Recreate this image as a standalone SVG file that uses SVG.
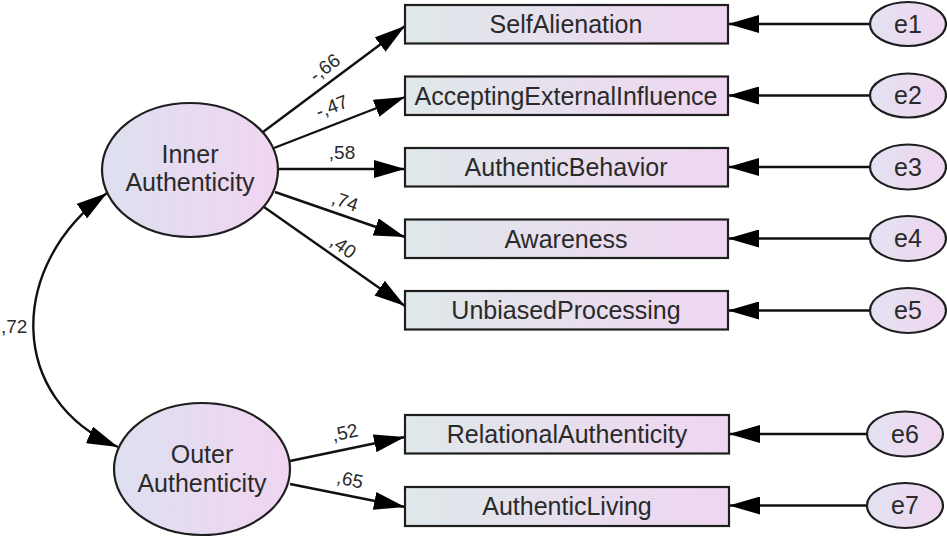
<svg xmlns="http://www.w3.org/2000/svg" width="947" height="538" viewBox="0 0 947 538">
<style>
.bg{fill:#ffffff}
.obs{stroke:#1e1e1e;stroke-width:2.2;fill:url(#gRect)}
.lat{stroke:#1e1e1e;stroke-width:2.2;fill:url(#gEll)}
.err{stroke:#1e1e1e;stroke-width:2.2;fill:url(#gErr)}
.nt{font-family:"Liberation Sans",Arial,sans-serif;font-size:25px;fill:#2a2a2a;text-anchor:middle}
.lb{font-family:"Liberation Sans",Arial,sans-serif;font-size:19px;fill:#2a2a2a;text-anchor:middle}
.cn{stroke:#111;stroke-width:2.4;fill:none;marker-end:url(#ah)}
</style>
<defs>
<linearGradient id="gRect" x1="0" y1="0" x2="1" y2="0">
<stop offset="0" stop-color="#dfe8ea"/>
<stop offset="1" stop-color="#efd6f1"/>
</linearGradient>
<linearGradient id="gEll" x1="0" y1="0" x2="1" y2="0">
<stop offset="0" stop-color="#dde0f0"/>
<stop offset="1" stop-color="#f1d5f1"/>
</linearGradient>
<linearGradient id="gErr" x1="0" y1="0" x2="1" y2="0">
<stop offset="0" stop-color="#e2e2f2"/>
<stop offset="1" stop-color="#f0d6f0"/>
</linearGradient>
<marker id="ah" markerUnits="userSpaceOnUse" markerWidth="32" markerHeight="18" refX="31" refY="9" orient="auto-start-reverse" viewBox="0 0 32 18">
<path d="M0,0 L31,9 L0,18 Z" fill="#000"/>
</marker>
</defs>
<rect class="bg" x="0" y="0" width="947" height="538"/>

<g id="connectors">
<line class="cn" x1="263" y1="132" x2="405" y2="26"/>
<line class="cn" x1="274" y1="148" x2="405" y2="97"/>
<line class="cn" x1="278" y1="169" x2="405" y2="169"/>
<line class="cn" x1="275" y1="192" x2="405" y2="237"/>
<line class="cn" x1="264" y1="207" x2="405" y2="306"/>
<line class="cn" x1="290" y1="461" x2="405" y2="437"/>
<line class="cn" x1="290" y1="484" x2="405" y2="507"/>
<line class="cn" x1="870" y1="24" x2="728" y2="24"/>
<line class="cn" x1="870" y1="95.5" x2="728" y2="95.5"/>
<line class="cn" x1="870" y1="167" x2="728" y2="167"/>
<line class="cn" x1="870" y1="238.5" x2="728" y2="238.5"/>
<line class="cn" x1="870" y1="310.5" x2="728" y2="310.5"/>
<line class="cn" x1="867" y1="434" x2="729" y2="434"/>
<line class="cn" x1="867" y1="505.5" x2="729" y2="505.5"/>
<path class="cn" style="marker-start:url(#ah)" d="M107,193 C7,265 7,400 118,447"/>
<text class="lb" transform="translate(325,68) rotate(-37)" y="6">-,66</text>
<text class="lb" transform="translate(332,107) rotate(-21)" y="6">-,47</text>
<text class="lb" transform="translate(342,153)" y="6">,58</text>
<text class="lb" transform="translate(345,202) rotate(19)" y="6">,74</text>
<text class="lb" transform="translate(343,247) rotate(35)" y="6">,40</text>
<text class="lb" transform="translate(345,433) rotate(-12)" y="6">,52</text>
<text class="lb" transform="translate(350,480) rotate(12)" y="6">,65</text>
<text class="lb" style="text-anchor:start" x="1" y="333">,72</text>
</g>

<g id="inner">
<ellipse class="lat" cx="190" cy="170" rx="88" ry="67"/>
<text class="nt" x="190" y="163">Inner</text>
<text class="nt" x="190" y="191">Authenticity</text>
</g>
<g id="outer">
<ellipse class="lat" cx="202" cy="469" rx="88" ry="66"/>
<text class="nt" x="202" y="463">Outer</text>
<text class="nt" x="202" y="492">Authenticity</text>
</g>

<g id="selfalienation">
<rect class="obs" x="405" y="5" width="323" height="38.5"/>
<text class="nt" x="566" y="33">SelfAlienation</text>
</g>
<g id="accepting">
<rect class="obs" x="405" y="76.5" width="323" height="38.5"/>
<text class="nt" x="566" y="104.5">AcceptingExternalInfluence</text>
</g>
<g id="authenticbehavior">
<rect class="obs" x="405" y="148" width="323" height="38.5"/>
<text class="nt" x="566" y="176">AuthenticBehavior</text>
</g>
<g id="awareness">
<rect class="obs" x="405" y="219.5" width="323" height="38.5"/>
<text class="nt" x="566" y="247.5">Awareness</text>
</g>
<g id="unbiased">
<rect class="obs" x="405" y="291" width="323" height="38.5"/>
<text class="nt" x="566" y="319">UnbiasedProcessing</text>
</g>
<g id="relational">
<rect class="obs" x="405" y="415" width="324" height="38.5"/>
<text class="nt" x="567" y="443">RelationalAuthenticity</text>
</g>
<g id="authenticliving">
<rect class="obs" x="405" y="487" width="324" height="39"/>
<text class="nt" x="567" y="515">AuthenticLiving</text>
</g>

<g id="e1"><ellipse class="err" cx="908" cy="24" rx="38" ry="22"/><text class="nt" x="908" y="32.5">e1</text></g>
<g id="e2"><ellipse class="err" cx="908" cy="95.5" rx="38" ry="22"/><text class="nt" x="908" y="104">e2</text></g>
<g id="e3"><ellipse class="err" cx="908" cy="167" rx="38" ry="22.5"/><text class="nt" x="908" y="175.5">e3</text></g>
<g id="e4"><ellipse class="err" cx="908" cy="238.5" rx="38" ry="22.5"/><text class="nt" x="908" y="247">e4</text></g>
<g id="e5"><ellipse class="err" cx="908" cy="310.5" rx="38" ry="22.5"/><text class="nt" x="908" y="319">e5</text></g>
<g id="e6"><ellipse class="err" cx="905" cy="434" rx="38" ry="22.5"/><text class="nt" x="905" y="442.5">e6</text></g>
<g id="e7"><ellipse class="err" cx="905" cy="505.5" rx="38" ry="22.5"/><text class="nt" x="905" y="514">e7</text></g>
</svg>
